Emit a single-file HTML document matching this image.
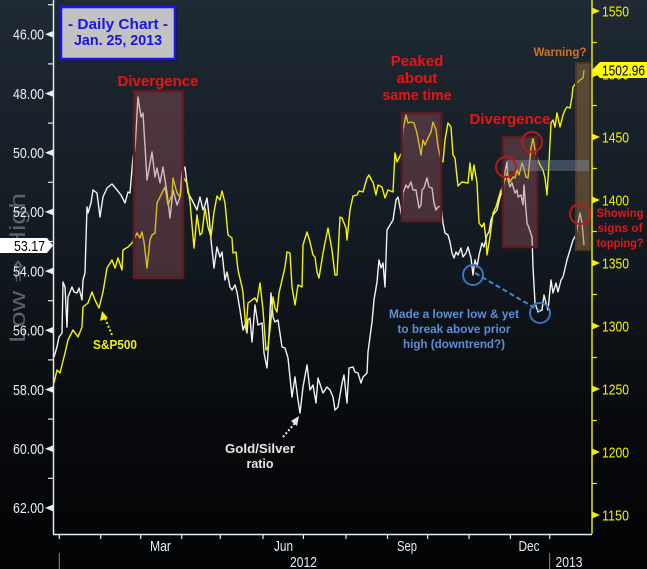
<!DOCTYPE html>
<html><head><meta charset="utf-8"><style>
html,body{margin:0;padding:0;background:#000;}
svg{display:block;}
.ll{font-family:"Liberation Sans Narrow","Liberation Sans",sans-serif;font-size:15px;fill:#e8eef4;}
.rl{font-family:"Liberation Sans Narrow","Liberation Sans",sans-serif;font-size:15px;fill:#f0f000;}
.b{font-family:"Liberation Sans",sans-serif;font-weight:bold;}
</style></head><body>
<svg width="647" height="569" viewBox="0 0 647 569" xmlns="http://www.w3.org/2000/svg">
<defs>
<linearGradient id="bg" x1="0" y1="0" x2="0" y2="1">
<stop offset="0" stop-color="#1f2a34"/>
<stop offset="0.45" stop-color="#121920"/>
<stop offset="0.75" stop-color="#07090c"/>
<stop offset="1" stop-color="#020304"/>
</linearGradient>
</defs>
<rect x="0" y="0" width="647" height="569" fill="url(#bg)"/>

<!-- Low => High -->
<text transform="translate(25,268) rotate(-90)" text-anchor="middle" font-family="Liberation Sans, DejaVu Sans, sans-serif" font-size="22" fill="#59616a" textLength="150" lengthAdjust="spacingAndGlyphs">Low ⇒ High</text>

<!-- Daily chart box -->
<rect x="63" y="9" width="114" height="52" fill="#000" opacity="0.35"/>
<rect x="61" y="7" width="114" height="52" fill="#c2c2c2" stroke="#1a14e6" stroke-width="2.5"/>
<text x="118" y="29" text-anchor="middle" class="b" font-size="15" fill="#1a14e6" textLength="100" lengthAdjust="spacingAndGlyphs">- Daily Chart -</text>
<text x="118" y="45" text-anchor="middle" class="b" font-size="15" fill="#1a14e6" textLength="88" lengthAdjust="spacingAndGlyphs">Jan. 25, 2013</text>

<!-- series -->
<polyline fill="none" stroke="#f2f2f2" stroke-width="1.4" stroke-linejoin="round" points="54,357 57,347 59,337 62,333 63,282 65,287 67,327 68,297 72,287 74,292 77,293 79,288 82,300 83,280 85,273 87,207 88,213 91,203 93,190 97,193 100,217 103,197 107,188 112,184 117,190 121,195 125,203 128,192 130,193 133,157 135,150 138,97 141,117 143,113 147,180 152,152 155,177 157,168 160,183 163,167 167,193 170,218 173,190 177,205 180,197 182,173 185,167 188,193 192,200 197,210 200,197 203,210 205,205 207,198 209,215 211,240 214,268 217,247 220,257 222,252 225,280 227,272 230,287 232,290 235,285 237,292 240,310 243,330 245,325 247,333 248,320 250,318 252,342 255,305 258,325 262,323 264,353 267,368 268,353 271,293 273,317 275,322 278,320 282,347 285,348 288,358 292,397 295,377 298,400 300,413 303,387 307,365 310,390 313,385 316,403 318,378 321,387 323,393 327,387 330,390 333,397 335,410 338,407 342,383 344,375 347,403 349,368 353,367 355,372 358,373 361,383 363,377 367,373 368,352 372,322 374,300 377,282 379,260 381,268 383,263 385,287 387,230 390,225 393,220 396,200 398,197 402,218 403,193 406,185 408,188 411,182 413,190 416,190 419,208 421,205 422,190 424,188 427,178 429,187 432,188 434,203 436,210 438,207 441,206 443,223 445,233 448,235 450,242 452,253 454,258 456,252 458,255 461,248 463,257 466,253 468,247 471,258 473,275 475,260 477,267 479,255 482,243 484,247 487,235 489,232 491,220 493,215 497,210 500,197 502,190 504,177 507,162 508,180 510,187 512,183 515,193 517,190 518,197 521,195 523,205 524,185 527,223 529,228 532,237 533,267 535,303 538,312 542,310 544,295 546,303 548,310 551,280 553,293 556,283 558,292 561,280 563,277 567,260 570,250 573,240 576,235 578,223 580,213 582,223 584,245"/>
<polyline fill="none" stroke="#f5f500" stroke-width="1.4" stroke-linejoin="round" points="54,383 57,370 60,373 65,353 68,340 73,330 78,337 82,327 83,307 88,303 92,292 95,300 99,308 103,292 107,268 112,260 115,268 118,258 122,270 123,250 128,247 132,243 137,233 140,238 142,232 144,242 147,268 150,240 152,235 155,233 157,203 160,197 165,187 168,205 172,195 173,178 177,193 180,197 183,177 187,183 190,202 194,248 197,215 200,235 202,233 205,208 208,227 211,237 214,212 217,196 220,200 222,191 225,203 228,235 232,238 233,253 236,252 238,270 242,287 243,293 246,330 248,303 252,300 255,298 257,302 260,283 263,310 266,350 268,347 271,320 273,297 275,308 277,312 279,293 282,280 285,267 287,252 290,253 292,287 295,305 298,285 302,287 303,245 307,232 310,242 313,255 315,257 317,272 319,278 323,253 325,243 328,228 332,250 335,275 337,275 340,217 342,218 346,228 347,240 350,210 353,196 357,195 359,191 363,192 367,178 369,175 372,181 373,182 376,195 378,185 382,187 385,198 388,190 393,192 395,153 397,162 402,152 403,130 406,115 408,123 411,122 414,123 417,133 421,155 423,140 425,145 428,138 431,132 433,122 436,130 438,147 441,160 443,162 445,140 448,123 451,127 453,155 455,158 457,177 458,186 462,182 468,183 470,163 472,180 474,165 477,183 479,223 482,227 484,223 486,240 487,255 490,237 493,213 496,207 498,200 501,190 503,197 504,183 507,173 510,182 513,177 515,178 517,170 519,175 522,163 523,165 526,177 528,178 531,148 533,138 535,150 538,160 540,165 543,170 545,178 547,195 549,163 551,123 553,120 555,127 557,113 560,127 563,115 565,110 567,107 570,108 572,97 573,87 576,83 578,82 580,80 583,78 584,70"/>

<!-- highlight boxes -->
<rect x="134" y="91" width="49" height="187" fill="rgb(165,90,100)" fill-opacity="0.36" stroke="#5c1c22" stroke-width="2.5"/>
<rect x="402" y="113" width="39" height="108" fill="rgb(165,90,100)" fill-opacity="0.36" stroke="#5c1c22" stroke-width="2.5"/>
<rect x="503" y="137" width="34" height="110" fill="rgb(165,90,100)" fill-opacity="0.36" stroke="#5c1c22" stroke-width="2.5"/>
<rect x="576" y="63" width="14" height="187" fill="rgb(150,110,65)" fill-opacity="0.5" stroke="#4e3822" stroke-width="2"/>
<rect x="507" y="160" width="82" height="11" fill="rgb(140,160,190)" fill-opacity="0.35"/>

<!-- circles -->
<g fill="none" stroke="#b51a1a" stroke-width="2">
<circle cx="506" cy="167" r="10"/>
<circle cx="532" cy="142" r="10"/>
<circle cx="580" cy="214" r="10"/>
</g>
<g fill="none" stroke="#3d72b4" stroke-width="2">
<circle cx="473" cy="275" r="10"/>
<circle cx="540" cy="313" r="10"/>
</g>
<line x1="475" y1="273" x2="540" y2="311" stroke="#4a82cc" stroke-width="2" stroke-dasharray="5,3"/>

<!-- annotations -->
<text x="158" y="86" text-anchor="middle" class="b" font-size="15" fill="#ee1212" textLength="81" lengthAdjust="spacingAndGlyphs">Divergence</text>
<text x="510" y="124" text-anchor="middle" class="b" font-size="15" fill="#ee1212" textLength="81" lengthAdjust="spacingAndGlyphs">Divergence</text>
<g class="b" font-size="15" fill="#ee1212" text-anchor="middle">
<text x="417" y="66">Peaked</text>
<text x="417" y="83">about</text>
<text x="417" y="100" textLength="69" lengthAdjust="spacingAndGlyphs">same time</text>
</g>
<text x="560" y="56" text-anchor="middle" class="b" font-size="12" fill="#d2731f" textLength="53" lengthAdjust="spacingAndGlyphs">Warning?</text>
<g class="b" font-size="12" fill="#e01818" text-anchor="middle">
<text x="620" y="217" textLength="47" lengthAdjust="spacingAndGlyphs">Showing</text>
<text x="620" y="232" textLength="45" lengthAdjust="spacingAndGlyphs">signs of</text>
<text x="620" y="247" textLength="47" lengthAdjust="spacingAndGlyphs">topping?</text>
</g>
<g class="b" font-size="12" fill="#5b8fd6" text-anchor="middle">
<text x="454" y="318" textLength="130" lengthAdjust="spacingAndGlyphs">Made a lower low &amp; yet</text>
<text x="454" y="333" textLength="113" lengthAdjust="spacingAndGlyphs">to break above prior</text>
<text x="454" y="348" textLength="102" lengthAdjust="spacingAndGlyphs">high (downtrend?)</text>
</g>
<g class="b" font-size="13" fill="#e6e6e6" text-anchor="middle">
<text x="260" y="453" textLength="70" lengthAdjust="spacingAndGlyphs">Gold/Silver</text>
<text x="260" y="468" textLength="27" lengthAdjust="spacingAndGlyphs">ratio</text>
</g>
<line x1="283" y1="437" x2="295" y2="423" stroke="#e6e6e6" stroke-width="2" stroke-dasharray="2,2"/>
<polygon points="299,416 291,421 297,426" fill="#e6e6e6"/>
<text x="115" y="349" text-anchor="middle" class="b" font-size="13" fill="#f0ee10" textLength="44" lengthAdjust="spacingAndGlyphs">S&amp;P500</text>
<line x1="112" y1="335" x2="105" y2="318" stroke="#f0ee10" stroke-width="2" stroke-dasharray="2,2"/>
<polygon points="102,311 100,321 108,318" fill="#f0ee10"/>

<!-- left axis -->
<line x1="53.5" y1="0" x2="53.5" y2="534" stroke="#e0e6ec" stroke-width="1.5"/>
<g stroke="#e0e6ec" stroke-width="1.2">
<line x1="48" y1="4.7" x2="53" y2="4.7"/>
<line x1="48" y1="63.9" x2="53" y2="63.9"/>
<line x1="48" y1="123.1" x2="53" y2="123.1"/>
<line x1="48" y1="182.3" x2="53" y2="182.3"/>
<line x1="48" y1="241.5" x2="53" y2="241.5"/>
<line x1="48" y1="300.7" x2="53" y2="300.7"/>
<line x1="48" y1="359.9" x2="53" y2="359.9"/>
<line x1="48" y1="419.1" x2="53" y2="419.1"/>
<line x1="48" y1="478.3" x2="53" y2="478.3"/>
</g>
<g fill="#e8eef4">
<polygon points="45,34.3 53,31 53,37.6"/>
<polygon points="45,93.5 53,90.2 53,96.8"/>
<polygon points="45,152.7 53,149.4 53,156"/>
<polygon points="45,211.9 53,208.6 53,215.2"/>
<polygon points="45,271.1 53,267.8 53,274.4"/>
<polygon points="45,330.3 53,327 53,333.6"/>
<polygon points="45,389.5 53,386.2 53,392.8"/>
<polygon points="45,448.7 53,445.4 53,452"/>
<polygon points="45,507.9 53,504.6 53,511.2"/>
</g>
<g class="ll" text-anchor="end">
<text x="44" y="39.6" textLength="31" lengthAdjust="spacingAndGlyphs">46.00</text>
<text x="44" y="98.8" textLength="31" lengthAdjust="spacingAndGlyphs">48.00</text>
<text x="44" y="158" textLength="31" lengthAdjust="spacingAndGlyphs">50.00</text>
<text x="44" y="217.2" textLength="31" lengthAdjust="spacingAndGlyphs">52.00</text>
<text x="44" y="276.4" textLength="31" lengthAdjust="spacingAndGlyphs">54.00</text>
<text x="44" y="335.6" textLength="31" lengthAdjust="spacingAndGlyphs">56.00</text>
<text x="44" y="394.8" textLength="31" lengthAdjust="spacingAndGlyphs">58.00</text>
<text x="44" y="454" textLength="31" lengthAdjust="spacingAndGlyphs">60.00</text>
<text x="44" y="513.2" textLength="31" lengthAdjust="spacingAndGlyphs">62.00</text>
</g>
<polygon points="0,238 47,238 53,245.5 47,253 0,253" fill="#ffffff"/>
<text x="45" y="251" text-anchor="end" font-family="Liberation Sans Narrow, Liberation Sans, sans-serif" font-size="15" fill="#000" textLength="31" lengthAdjust="spacingAndGlyphs">53.17</text>

<!-- right axis -->
<line x1="592" y1="0" x2="592" y2="534" stroke="#e8e800" stroke-width="1.5"/>
<g stroke="#e8e800" stroke-width="1.2">
<line x1="592" y1="42.5" x2="597" y2="42.5"/>
<line x1="592" y1="105.5" x2="597" y2="105.5"/>
<line x1="592" y1="168.5" x2="597" y2="168.5"/>
<line x1="592" y1="231.5" x2="597" y2="231.5"/>
<line x1="592" y1="294.5" x2="597" y2="294.5"/>
<line x1="592" y1="357.5" x2="597" y2="357.5"/>
<line x1="592" y1="420.5" x2="597" y2="420.5"/>
<line x1="592" y1="483.5" x2="597" y2="483.5"/>
</g>
<g fill="#f0f000">
<polygon points="600,11 592,7.5 592,14.5"/>
<polygon points="600,74 592,70.5 592,77.5"/>
<polygon points="600,137 592,133.5 592,140.5"/>
<polygon points="600,200 592,196.5 592,203.5"/>
<polygon points="600,263 592,259.5 592,266.5"/>
<polygon points="600,326 592,322.5 592,329.5"/>
<polygon points="600,389 592,385.5 592,392.5"/>
<polygon points="600,452 592,448.5 592,455.5"/>
<polygon points="600,515 592,511.5 592,518.5"/>
</g>
<g class="rl">
<text x="602" y="16.3" textLength="27" lengthAdjust="spacingAndGlyphs">1550</text>
<text x="602" y="79.3" textLength="27" lengthAdjust="spacingAndGlyphs">1500</text>
<text x="602" y="142.3" textLength="27" lengthAdjust="spacingAndGlyphs">1450</text>
<text x="602" y="205.3" textLength="27" lengthAdjust="spacingAndGlyphs">1400</text>
<text x="602" y="268.3" textLength="27" lengthAdjust="spacingAndGlyphs">1350</text>
<text x="602" y="331.3" textLength="27" lengthAdjust="spacingAndGlyphs">1300</text>
<text x="602" y="394.3" textLength="27" lengthAdjust="spacingAndGlyphs">1250</text>
<text x="602" y="457.3" textLength="27" lengthAdjust="spacingAndGlyphs">1200</text>
<text x="602" y="520.3" textLength="27" lengthAdjust="spacingAndGlyphs">1150</text>
</g>
<polygon points="592,70 600,62 647,62 647,78 600,78" fill="#ffff00"/>
<text x="602" y="75.5" font-family="Liberation Sans Narrow, Liberation Sans, sans-serif" font-size="15" fill="#000" textLength="43" lengthAdjust="spacingAndGlyphs">1502.96</text>

<!-- bottom axis -->
<line x1="53" y1="534.5" x2="592" y2="534.5" stroke="#e8eef4" stroke-width="1.5"/>
<g stroke="#e8eef4" stroke-width="1.2">
<line x1="59.3" y1="535" x2="59.3" y2="539"/>
<line x1="100.7" y1="535" x2="100.7" y2="539"/>
<line x1="140.7" y1="535" x2="140.7" y2="539"/>
<line x1="181.7" y1="535" x2="181.7" y2="539"/>
<line x1="220.3" y1="535" x2="220.3" y2="539"/>
<line x1="263" y1="535" x2="263" y2="539"/>
<line x1="303.4" y1="535" x2="303.4" y2="539"/>
<line x1="346" y1="535" x2="346" y2="539"/>
<line x1="387.5" y1="535" x2="387.5" y2="539"/>
<line x1="427.6" y1="535" x2="427.6" y2="539"/>
<line x1="469" y1="535" x2="469" y2="539"/>
<line x1="510.4" y1="535" x2="510.4" y2="539"/>
<line x1="549.7" y1="535" x2="549.7" y2="539"/>
</g>
<g class="ll" text-anchor="middle">
<text x="160.5" y="551" textLength="21" lengthAdjust="spacingAndGlyphs">Mar</text>
<text x="283.5" y="551" textLength="19" lengthAdjust="spacingAndGlyphs">Jun</text>
<text x="407" y="551" textLength="20" lengthAdjust="spacingAndGlyphs">Sep</text>
<text x="529" y="551" textLength="21" lengthAdjust="spacingAndGlyphs">Dec</text>
<text x="303.5" y="567" textLength="27" lengthAdjust="spacingAndGlyphs">2012</text>
<text x="569" y="567" textLength="27" lengthAdjust="spacingAndGlyphs">2013</text>
</g>
<line x1="59.3" y1="553" x2="59.3" y2="569" stroke="#8a8e92" stroke-width="1"/>
<line x1="549.7" y1="553" x2="549.7" y2="569" stroke="#8a8e92" stroke-width="1"/>
</svg>
</body></html>
